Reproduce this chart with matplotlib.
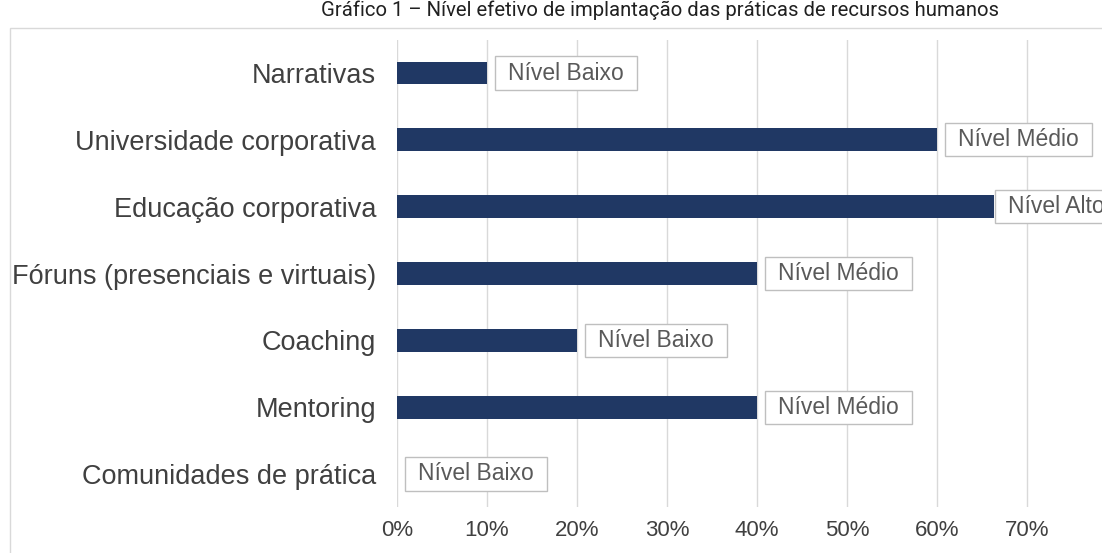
import matplotlib
matplotlib.use("Agg")
import matplotlib.pyplot as plt
from matplotlib.patches import Rectangle
from matplotlib.path import Path
from matplotlib.ticker import PercentFormatter, MultipleLocator

# ---------------------------------------------------------------------------
# Data
# ---------------------------------------------------------------------------
categories = [
    "Narrativas",
    "Universidade corporativa",
    "Educação corporativa",
    "Fóruns (presenciais e virtuais)",
    "Coaching",
    "Mentoring",
    "Comunidades de prática",
]
values = [0.10, 0.60, 0.663, 0.40, 0.20, 0.40, 0.0]
levels = ["Nível Baixo", "Nível Médio", "Nível Alto", "Nível Médio",
          "Nível Baixo", "Nível Médio", "Nível Baixo"]
title = "Gráfico 1 – Nível efetivo de implantação das práticas de recursos humanos"

BAR_COLOR = "#203864"
TEXT_COLOR = "#404040"
GRID_COLOR = "#d9d9d9"

W, H = 1102, 553


def label_box(x0, y0, width, height, mutation_size):
    # rectangular box, wider padding left/right than top/bottom
    px, py = 0.57 * mutation_size, 0.22 * mutation_size
    x0, y0 = x0 - px, y0 - py
    x1, y1 = x0 + width + 2 * px, y0 + height + 2 * py
    return Path([(x0, y0), (x1, y0), (x1, y1), (x0, y1), (x0, y0)],
                closed=True)


fig = plt.figure(figsize=(W / 100, H / 100), dpi=100)
fig.patch.set_facecolor("white")

# outer chart frame (only top/left visible, the rest is cropped off)
fig.patches.append(Rectangle((10 / W, -0.1), 1.2, 1 - 28 / H + 0.1,
                             transform=fig.transFigure, fill=False,
                             ec=GRID_COLOR, lw=1.0))

# title, its top slightly cut by the picture edge as in the source
fig.text(660 / W, 1 - 16 / H, title, ha="center", va="baseline",
         fontsize=14.6, family="Roboto", color="#202020")

left = 397 / W
bottom = 1 - 507.4 / H
top = 1 - 39.6 / H
ax = fig.add_axes([left, bottom, 1 - left, top - bottom])

y = list(range(len(categories)))
ax.barh(y, values, height=0.34, color=BAR_COLOR, zorder=2)

for yi, v, lab in zip(y, values, levels):
    # the label near the right edge is pulled in against its bar
    dx = 10 if v > 0.65 else 15
    ax.annotate(lab, xy=(v, yi), xytext=(dx, 0), textcoords="offset points",
                ha="left", va="center", fontsize=16.5, family="Liberation Sans",
                color="#595959", zorder=3,
                bbox=dict(boxstyle=label_box, fc="white",
                          ec="#bfbfbf", lw=1.0))

ax.set_ylim(len(categories) - 0.5, -0.5)
ax.set_xlim(0, (W - 397) / 900)
ax.set_yticks(y)
ax.set_yticklabels(categories, fontsize=19.5, family="Liberation Sans",
                   color=TEXT_COLOR)
ax.xaxis.set_major_locator(MultipleLocator(0.1))
ax.xaxis.set_major_formatter(PercentFormatter(1.0, decimals=0))
for lbl in ax.get_xticklabels():
    lbl.set_family("Liberation Sans")
ax.tick_params(axis="x", length=0, pad=9, labelsize=16, labelcolor=TEXT_COLOR)
ax.tick_params(axis="y", length=0, pad=15)
ax.grid(axis="x", color=GRID_COLOR, lw=1.0, zorder=0)
ax.set_axisbelow(True)
for s in ax.spines.values():
    s.set_visible(False)

fig.savefig("out.png", dpi=100)
